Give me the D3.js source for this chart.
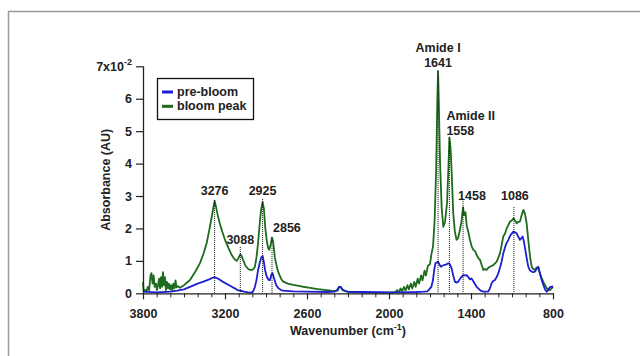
<!DOCTYPE html>
<html>
<head>
<meta charset="utf-8">
<script src="https://cdn.jsdelivr.net/npm/d3@7/dist/d3.min.js"></script>
<style>
  html, body { margin: 0; padding: 0; background: #fff; }
  svg { display: block; }
  text { font-family: "Liberation Sans", Arial, Helvetica, sans-serif; font-weight: bold; font-size: 12.5px; fill: #222; }
</style>
</head>
<body>
<svg id="chart" width="640" height="356"></svg>
<script>
// ---- data ----
const bloomWn = [3800,3795,3785,3775,3765,3755,3745,3738,3730,3722,3715,3705,3698,3690,3682,3675,3668,3660,3654,3646,3640,3632,3625,3617,3610,3602,3594,3586,3578,3570,3562,3555,3545,3529,3500,3456,3420,3383,3355,3334,3315,3297,3285,3276,3265,3250,3239,3220,3200,3175,3151,3130,3114,3100,3088,3078,3068,3050,3030,3017,3000,2990,2981,2970,2958,2945,2935,2925,2915,2905,2895,2885,2876,2866,2856,2848,2835,2820,2810,2790,2774,2740,2700,2640,2578,2520,2456,2400,2375,2365,2355,2340,2300,2200,2100,2000,1970,1960,1940,1930,1915,1905,1890,1880,1865,1855,1840,1830,1815,1805,1790,1780,1765,1755,1740,1730,1715,1700,1690,1678,1666,1655,1647,1641,1635,1627,1615,1603,1590,1575,1565,1558,1550,1542,1530,1518,1506,1495,1486,1470,1458,1450,1440,1432,1420,1408,1395,1383,1370,1359,1345,1334,1320,1310,1298,1286,1270,1261,1237,1212,1200,1188,1175,1164,1150,1139,1127,1115,1100,1090,1078,1066,1055,1042,1030,1017,1005,993,981,968,956,945,932,920,907,895,883,865,846,835,822,810,800];
const bloomAbs = [0.35,0.05,0.1,0.05,0.2,0.1,0.55,0.62,0.3,0.55,0.2,0.3,0.1,0.25,0.45,0.15,0.5,0.2,0.65,0.25,0.5,0.1,0.35,0.15,0.3,0.12,0.25,0.1,0.3,0.15,0.4,0.18,0.22,0.17,0.25,0.41,0.65,0.93,1.25,1.55,1.95,2.36,2.65,2.85,2.65,2.35,2.17,1.9,1.65,1.4,1.18,1.05,1.0,1.1,1.2,1.15,1.03,0.85,0.75,0.72,0.72,0.76,0.82,1.1,1.55,2.2,2.6,2.82,2.6,2.0,1.65,1.4,1.34,1.5,1.72,1.6,1.1,0.8,0.65,0.45,0.36,0.3,0.26,0.21,0.17,0.13,0.1,0.07,0.08,0.2,0.2,0.1,0.04,0.03,0.02,0.02,0.03,0.02,0.1,0.02,0.15,0.05,0.2,0.08,0.25,0.12,0.3,0.15,0.35,0.2,0.45,0.3,0.55,0.4,0.7,0.55,0.85,0.9,1.2,1.44,2.26,3.8,5.8,6.85,5.8,4.1,2.67,2.05,2.2,2.8,3.9,4.8,4.5,3.8,2.47,1.9,1.65,1.7,1.85,2.2,2.65,2.4,2.5,2.1,1.9,1.65,1.45,1.34,1.3,1.18,1.08,1.03,0.85,0.72,0.75,0.72,0.8,0.82,0.87,0.98,1.1,1.23,1.5,1.75,1.85,2.0,2.1,2.21,2.25,2.31,2.25,2.16,2.2,2.21,2.4,2.57,2.45,2.16,1.65,1.13,0.82,0.75,0.72,0.8,0.77,0.6,0.47,0.3,0.16,0.1,0.1,0.15,0.2];

const preWn = [3800,3700,3600,3550,3500,3456,3400,3358,3320,3290,3276,3250,3217,3180,3150,3132,3110,3090,3060,3030,3010,2995,2981,2970,2958,2945,2935,2925,2915,2907,2895,2880,2871,2860,2852,2840,2825,2810,2790,2774,2700,2600,2450,2400,2380,2365,2355,2340,2320,2300,2200,2000,1900,1800,1750,1720,1710,1700,1690,1678,1670,1660,1650,1641,1630,1620,1610,1591,1575,1566,1555,1542,1530,1518,1505,1493,1480,1469,1455,1445,1432,1420,1408,1396,1380,1359,1347,1330,1310,1274,1262,1249,1237,1225,1212,1200,1180,1164,1145,1127,1110,1090,1078,1066,1055,1042,1030,1022,1013,1005,993,981,968,956,945,932,920,907,895,883,870,858,846,835,822,810,800];
const preAbs = [0.05,0.03,0.05,0.08,0.12,0.2,0.3,0.36,0.42,0.48,0.5,0.45,0.36,0.27,0.2,0.16,0.1,0.08,0.05,0.03,0.02,0.05,0.2,0.4,0.72,0.95,1.1,1.15,0.95,0.72,0.52,0.41,0.41,0.58,0.62,0.45,0.25,0.16,0.1,0.08,0.06,0.05,0.04,0.05,0.1,0.2,0.2,0.12,0.07,0.05,0.04,0.03,0.03,0.04,0.05,0.06,0.1,0.15,0.2,0.41,0.7,0.93,0.95,0.98,0.88,0.82,0.85,0.88,0.9,0.93,0.9,0.77,0.55,0.36,0.33,0.36,0.45,0.51,0.56,0.55,0.56,0.5,0.43,0.46,0.35,0.2,0.15,0.08,0.05,0.05,0.15,0.31,0.38,0.41,0.5,0.62,0.9,1.23,1.5,1.65,1.8,1.9,1.88,1.85,1.75,1.65,1.7,1.75,1.6,1.4,1.1,0.82,0.7,0.67,0.65,0.67,0.75,0.82,0.6,0.41,0.25,0.12,0.05,0.1,0.2,0.2,0.22];

const seriesNames = ["pre-bloom", "bloom peak"];
const peakWn = [3276, 3088, 2925, 2856, 1641, 1558, 1458, 1086];
const peakTop = [2.88, 1.43, 2.91, 1.71, 6.86, 4.82, 2.85, 2.66];
const peakLabels = ["3276", "3088", "2925", "2856", "1641", "1558", "1458", "1086"];
const bandNames = {1641: "Amide I", 1558: "Amide II"};
const xMajorTicks = [3800, 3200, 2600, 2000, 1400, 800];
const yTicks = [0, 1, 2, 3, 4, 5, 6, 7];

// ---- layout ----
const svg = d3.select("#chart");
const colors = {pre: "#1e1ed2", bloom: "#1d6b1d"};

// outer frame
svg.append("rect").attr("x", 8.5).attr("y", 11.5).attr("width", 700).attr("height", 400)
  .attr("fill", "none").attr("stroke", "#9a9a9a").attr("stroke-width", 1.5);

const x = d3.scaleLinear().domain([3800, 800]).range([143, 553]);
const y = d3.scaleLinear().domain([0, 7]).range([293.3, 66.3]);

const line = d3.line().x(d => x(d[0])).y(d => y(d[1]));
const bloom = bloomWn.map((w, i) => [w, bloomAbs[i]]);
const pre = preWn.map((w, i) => [w, preAbs[i]]);

svg.append("path").datum(bloom).attr("d", line).attr("fill", "none")
  .attr("stroke", colors.bloom).attr("stroke-width", 1.8).attr("stroke-linejoin", "round");
svg.append("path").datum(pre).attr("d", line).attr("fill", "none")
  .attr("stroke", colors.pre).attr("stroke-width", 1.8).attr("stroke-linejoin", "round");

// dotted peak markers
peakWn.forEach((w, i) => {
  svg.append("line").attr("x1", x(w)).attr("x2", x(w))
    .attr("y1", y(peakTop[i])).attr("y2", y(0))
    .attr("stroke", "#111").attr("stroke-width", 1).attr("stroke-dasharray", "1,1");
});

// peak labels
const labelLayout = {
  3276: {anchor: "middle", dx: 0, dy: -5},
  3088: {anchor: "middle", dx: 0, dy: -3},
  2925: {anchor: "middle", dx: 0, dy: -4},
  2856: {anchor: "start", dx: 1, dy: -6},
  1641: {anchor: "middle", dx: 0, dy: -4},
  1558: {anchor: "start", dx: -3, dy: -2},
  1458: {anchor: "start", dx: -5, dy: -1},
  1086: {anchor: "middle", dx: 1, dy: -7}
};
peakWn.forEach((w, i) => {
  const L = labelLayout[w];
  const tx = x(w) + L.dx, ty = y(peakTop[i]) + L.dy;
  svg.append("text").attr("x", tx).attr("y", ty).attr("text-anchor", L.anchor).text(peakLabels[i]);
  if (bandNames[w]) {
    svg.append("text").attr("x", tx).attr("y", ty - 15).attr("text-anchor", L.anchor).text(bandNames[w]);
  }
});

// x axis
const xAxisMinor = d3.axisBottom(x).tickValues(d3.range(3800, 799, -100)).tickSize(4).tickFormat("");
const gxm = svg.append("g").attr("transform", `translate(0,${y(0)})`).call(xAxisMinor);
gxm.select(".domain").remove();
gxm.selectAll("line").attr("stroke", "#222").attr("stroke-width", 1);

const xAxis = d3.axisBottom(x).tickValues(xMajorTicks).tickSize(6).tickPadding(10).tickFormat(d3.format("d"));
const gx = svg.append("g").attr("transform", `translate(0,${y(0)})`).call(xAxis);
gx.select(".domain").attr("stroke", "#222").attr("stroke-width", 1.3).attr("d", `M${x(3800)},0.5H${x(800)}`);
gx.selectAll("line").attr("stroke", "#222").attr("stroke-width", 1.2);
gx.selectAll("text").attr("font-family", null).attr("font-size", null).style("fill", "#222");

// y axis
const yAxis = d3.axisLeft(y).tickValues(yTicks).tickSize(7).tickPadding(4).tickFormat(d => d === 7 ? "" : d);
const gy = svg.append("g").attr("transform", `translate(${x(3800)},0)`).call(yAxis);
gy.select(".domain").attr("stroke", "#222").attr("stroke-width", 1.3).attr("d", `M0.5,${y(7)}V${y(0)}`);
gy.selectAll("line").attr("stroke", "#222").attr("stroke-width", 1.2);
gy.selectAll("text").attr("font-family", null).attr("font-size", null).style("fill", "#222");
// top label 7x10^-2
const topLab = svg.append("text").attr("x", x(3800) - 11).attr("y", y(7) + 4.5).attr("text-anchor", "end");
topLab.append("tspan").text("7x10");
topLab.append("tspan").attr("dy", -6).attr("font-size", "9px").text("-2");

// axis titles
svg.append("text").attr("transform", `translate(110,${(y(0) + y(7)) / 2}) rotate(-90)`)
  .attr("text-anchor", "middle").text("Absorbance (AU)");
const xt = svg.append("text").attr("x", (x(3800) + x(800)) / 2).attr("y", 335).attr("text-anchor", "middle");
xt.append("tspan").text("Wavenumber (cm");
xt.append("tspan").attr("dy", -5).attr("font-size", "9px").text("-1");
xt.append("tspan").attr("dy", 5).text(")");

// legend
const lg = svg.append("g");
lg.append("rect").attr("x", 157.5).attr("y", 78.5).attr("width", 96).attr("height", 41)
  .attr("fill", "#fff").attr("stroke", "#111").attr("stroke-width", 1.3);
const legendColors = [colors.pre, colors.bloom];
seriesNames.forEach((n, i) => {
  const yy = 92 + i * 14.3;
  lg.append("line").attr("x1", 162).attr("x2", 173).attr("y1", yy).attr("y2", yy)
    .attr("stroke", legendColors[i]).attr("stroke-width", 3);
  lg.append("text").attr("x", 177).attr("y", yy + 4).text(n);
});
</script>
</body>
</html>
